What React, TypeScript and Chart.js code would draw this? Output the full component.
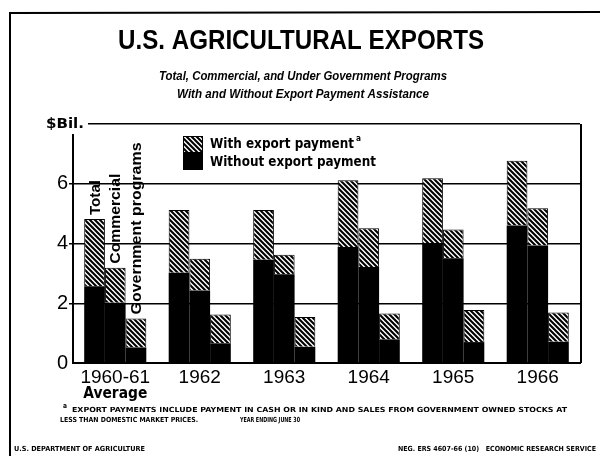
import React, { useEffect, useRef } from 'react';
import { Chart, registerables } from 'chart.js';

Chart.register(...registerables);

// ---- data (values in $ billions) ----
const categories = ['1960-61', '1962', '1963', '1964', '1965', '1966'];
const totalAll = [4.82, 5.12, 5.12, 6.12, 6.18, 6.77];
const totalWithout = [2.57, 3.02, 3.46, 3.88, 4.01, 4.6];
const commercialAll = [3.19, 3.49, 3.62, 4.51, 4.47, 5.18];
const commercialWithout = [2.02, 2.43, 2.97, 3.21, 3.51, 3.93];
const governmentAll = [1.49, 1.62, 1.54, 1.66, 1.77, 1.69];
const governmentWithout = [0.52, 0.66, 0.54, 0.79, 0.7, 0.71];
const yMax = 8;
const yStep = 2;
const groupLabels = ['Total', 'Commercial', 'Government programs'];
const legendLabels = ['With export payment', 'Without export payment'];
const titleText = 'U.S. AGRICULTURAL EXPORTS';
const subtitleLines = [
  'Total, Commercial, and Under Government Programs',
  'With and Without Export Payment Assistance',
];
const footnoteLines = [
  'EXPORT PAYMENTS INCLUDE PAYMENT IN CASH OR IN KIND AND SALES FROM GOVERNMENT OWNED STOCKS AT',
  'LESS THAN DOMESTIC MARKET PRICES.',
  'YEAR ENDING JUNE 30',
];
const sourceLeft = 'U.S. DEPARTMENT OF AGRICULTURE';
const sourceRight = 'NEG. ERS 4607-66 (10)   ECONOMIC RESEARCH SERVICE';

const diff = (a: number[], b: number[]) => a.map((v, i) => +(v - b[i]).toFixed(2));

function fitText(
  ctx: CanvasRenderingContext2D,
  text: string,
  x: number,
  y: number,
  width: number,
  font: string,
  align: CanvasTextAlign = 'left'
) {
  ctx.save();
  ctx.font = font;
  ctx.textBaseline = 'middle';
  ctx.textAlign = align;
  const w = ctx.measureText(text).width;
  const s = width / w;
  ctx.translate(x, y);
  ctx.scale(s, 1);
  ctx.fillStyle = '#000';
  ctx.fillText(text, 0, 0);
  ctx.restore();
}

function makeHatch(ctx: CanvasRenderingContext2D): CanvasPattern | string {
  const p = 5;
  const c = document.createElement('canvas');
  c.width = p;
  c.height = p;
  const g = c.getContext('2d')!;
  g.fillStyle = '#fff';
  g.fillRect(0, 0, p, p);
  g.strokeStyle = '#000';
  g.lineWidth = 2.1;
  g.beginPath();
  g.moveTo(-p, 0); g.lineTo(p, 2 * p);
  g.moveTo(0, -p); g.lineTo(2 * p, p);
  g.moveTo(-1, -1); g.lineTo(p + 1, p + 1);
  g.stroke();
  return ctx.createPattern(c, 'repeat') || '#555';
}

export default function App() {
  const ref = useRef<HTMLCanvasElement | null>(null);

  useEffect(() => {
    document.body.style.margin = '0';
    const canvas = ref.current!;
    const ctx0 = canvas.getContext('2d')!;
    const hatch = makeHatch(ctx0);

    const black = '#000';
    const solid = { backgroundColor: black, borderWidth: 0 };
    const hatched = { backgroundColor: hatch as any, borderColor: black, borderWidth: 1 };

    const decor = {
      id: 'decor',
      beforeDraw(chart: any) {
        const c = chart.ctx as CanvasRenderingContext2D;
        c.save();
        c.fillStyle = '#fff';
        c.fillRect(0, 0, chart.width, chart.height);
        c.restore();
      },
      afterDraw(chart: any) {
        const c = chart.ctx as CanvasRenderingContext2D;
        const area = chart.chartArea;
        const xs = chart.scales.x;
        c.save();
        // outer frame
        c.strokeStyle = '#000';
        c.lineWidth = 2;
        c.beginPath();
        c.moveTo(9, 13); c.lineTo(600, 12);
        c.moveTo(10, 12); c.lineTo(10, 456);
        c.stroke();
        // right frame of plot
        c.beginPath();
        c.moveTo(area.right + 1, area.top); c.lineTo(area.right + 1, area.bottom);
        c.stroke();
        // $Bil. label
        c.fillStyle = '#fff';
        c.fillRect(40, 115, 48, 19);
        fitText(c, '$Bil.', 46, 124, 38, 'bold 14px "DejaVu Sans"');
        // title & subtitle
        fitText(c, titleText, 301, 42, 366, 'bold 27px "Liberation Sans"', 'center');
        fitText(c, subtitleLines[0], 303, 76, 288, 'italic bold 13px "Liberation Sans"', 'center');
        fitText(c, subtitleLines[1], 303, 94, 252, 'italic bold 13px "Liberation Sans"', 'center');
        // legend
        const lx = 183, lw = 20;
        c.fillStyle = hatch as any;
        c.fillRect(lx, 136, lw, 16);
        c.strokeStyle = '#000';
        c.lineWidth = 1;
        c.strokeRect(lx + 0.5, 136.5, lw - 1, 16);
        c.fillStyle = '#000';
        c.fillRect(lx, 152, lw, 18);
        fitText(c, legendLabels[0], 210, 144, 144, 'bold 14px "DejaVu Sans"');
        fitText(c, 'a', 356, 139, 5, 'bold 8px "DejaVu Sans"');
        fitText(c, legendLabels[1], 210, 162, 166, 'bold 14px "DejaVu Sans"');
        // vertical group labels on first group
        const widths = [35, 90, 172];
        [1, 3, 5].forEach((di, k) => {
          const bar = chart.getDatasetMeta(di).data[0];
          c.save();
          c.translate(bar.x + 1, bar.y - 4);
          c.rotate(-Math.PI / 2);
          fitText(c, groupLabels[k], 0, 0, widths[k], 'bold 15px "Liberation Sans"');
          c.restore();
        });
        // "Average" under first tick
        fitText(c, 'Average', xs.getPixelForValue(0), 394, 64, 'bold 15px "DejaVu Sans"', 'center');
        // footnotes
        fitText(c, 'a', 63, 406, 4, 'bold 7px "DejaVu Sans"');
        fitText(c, footnoteLines[0], 72, 410, 495, 'bold 7px "DejaVu Sans"');
        fitText(c, footnoteLines[1], 60, 420, 138, 'bold 7px "DejaVu Sans"');
        fitText(c, footnoteLines[2], 240, 420, 60, 'bold 7px "DejaVu Sans"');
        fitText(c, sourceLeft, 14, 449, 131, 'bold 7px "DejaVu Sans"');
        fitText(c, sourceRight, 398, 449, 198, 'bold 7px "DejaVu Sans"');
        c.restore();
      },
    };

    const chart = new Chart(canvas, {
      type: 'bar',
      data: {
        labels: categories,
        datasets: [
          { label: 'Total ' + legendLabels[1], data: totalWithout, stack: 'total', ...solid },
          { label: 'Total ' + legendLabels[0], data: diff(totalAll, totalWithout), stack: 'total', ...hatched },
          { label: 'Commercial ' + legendLabels[1], data: commercialWithout, stack: 'commercial', ...solid },
          { label: 'Commercial ' + legendLabels[0], data: diff(commercialAll, commercialWithout), stack: 'commercial', ...hatched },
          { label: 'Government ' + legendLabels[1], data: governmentWithout, stack: 'government', ...solid },
          { label: 'Government ' + legendLabels[0], data: diff(governmentAll, governmentWithout), stack: 'government', ...hatched },
        ],
      },
      options: {
        responsive: false,
        animation: false,
        events: [],
        layout: { padding: { left: 0, right: 20, top: 124, bottom: 63 } },
        datasets: { bar: { categoryPercentage: 0.735, barPercentage: 1.0 } } as any,
        plugins: { legend: { display: false }, title: { display: false }, tooltip: { enabled: false } },
        scales: {
          x: {
            stacked: true,
            grid: { display: false, drawTicks: false },
            border: { display: true, color: '#000', width: 2 },
            ticks: { color: '#000', font: { family: 'Liberation Sans', size: 19 }, padding: 3 },
            afterFit: (s: any) => { s.height = 30; },
          },
          y: {
            stacked: true,
            min: 0,
            max: yMax,
            ticks: {
              stepSize: yStep,
              color: '#000',
              font: { family: 'Liberation Sans', size: 20 },
              padding: 1,
              callback: (v: any) => (Number(v) === yMax ? '' : String(v)),
            },
            grid: {
              color: (c: any) => (c.tick && c.tick.value === 0 ? 'rgba(0,0,0,0)' : '#000'),
              lineWidth: 1.5,
              tickLength: 4,
            },
            border: { display: true, color: '#000', width: 2 },
            afterFit: (s: any) => { s.width = 73; },
          },
        },
      },
      plugins: [decor],
    } as any);

    return () => chart.destroy();
  }, []);

  return <canvas ref={ref} width={600} height={456} style={{ display: 'block' }} />;
}
